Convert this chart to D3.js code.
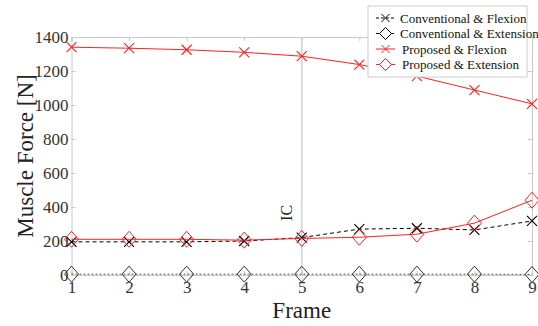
<!DOCTYPE html>
<html>
<head>
<meta charset="utf-8">
<script src="https://cdn.jsdelivr.net/npm/d3@7"></script>
<style>
  body { margin: 0; background: #fff; }
  svg text { font-family: "Liberation Serif", "Times New Roman", serif; }
</style>
</head>
<body>
<div id="chart"></div>
<script>
// data
const frames = [1, 2, 3, 4, 5, 6, 7, 8, 9];
const convFlexion = [195, 195, 195, 200, 220, 270, 275, 265, 318];
const convExtension = [5, 5, 5, 5, 5, 5, 5, 5, 3];
const propFlexion = [1340, 1334, 1325, 1310, 1287, 1238, 1170, 1088, 1007];
const propExtension = [210, 210, 210, 205, 215, 222, 240, 305, 440];
const yTicks = [0, 200, 400, 600, 800, 1000, 1200, 1400];

const W = 538, H = 326;
const margin = { left: 71.5, right: 6, top: 37, bottom: 51 };

const svg = d3.select("#chart").append("svg")
  .attr("width", W).attr("height", H);

const x = d3.scaleLinear().domain([1, 9]).range([margin.left, W - margin.right]);
const y = d3.scaleLinear().domain([0, 1400]).range([H - margin.bottom, margin.top]);

const axisCol = "#c8c8c8";

// frame lines
svg.append("g").selectAll("line").data([5]).enter().append("line")
  .attr("x1", d => x(d)).attr("x2", d => x(d))
  .attr("y1", y(1400)).attr("y2", y(0))
  .attr("stroke", "#d4d4d4").attr("stroke-width", 1.5);

// axes
svg.append("g").attr("transform", `translate(0,${y(0)})`)
  .call(d3.axisBottom(x).tickValues(frames).tickSize(-4).tickPadding(6).tickFormat(d3.format("d")));
svg.append("g").attr("transform", `translate(${x(1)},0)`)
  .call(d3.axisLeft(y).tickValues(yTicks).tickSize(-4).tickPadding(3).tickFormat(d3.format("d")));
svg.append("g").attr("transform", `translate(0,${y(1400)})`)
  .call(d3.axisTop(x).tickValues(frames).tickSize(-4).tickFormat(""));
svg.append("g").attr("transform", `translate(${x(9)},0)`)
  .call(d3.axisRight(y).tickValues(yTicks).tickSize(-4).tickFormat(""));

svg.selectAll("g").attr("font-family", null);
svg.selectAll(".domain").attr("stroke", axisCol);
svg.selectAll(".tick line").attr("stroke", axisCol);
svg.selectAll(".tick text").attr("fill", "#333").style("font-size", "17px");

// series
const series = [
  { name: "Conventional & Flexion", vals: convFlexion, color: "#000", dash: "4,3", marker: "x" },
  { name: "Conventional & Extension", vals: convExtension, color: "#555", dash: "2,2", marker: "d" },
  { name: "Proposed & Flexion", vals: propFlexion, color: "#ff2020", dash: null, marker: "x" },
  { name: "Proposed & Extension", vals: propExtension, color: "#ff2020", dash: null, marker: "d" }
];

const line = d3.line().x((d, i) => x(frames[i])).y(d => y(d));

function drawMarker(g, type, color) {
  if (type === "x") {
    g.append("path").attr("d", "M-5,-5L5,5M-5,5L5,-5")
      .attr("stroke", color).attr("stroke-width", 1.1).attr("fill", "none");
  } else {
    g.append("path").attr("d", "M0,-8L7,0L0,8L-7,0Z")
      .attr("stroke", color).attr("stroke-width", 1).attr("fill", "none");
  }
}

series.forEach(s => {
  svg.append("path").datum(s.vals)
    .attr("d", line)
    .attr("fill", "none")
    .attr("stroke", s.color)
    .attr("stroke-width", 1)
    .attr("stroke-dasharray", s.dash);
  s.vals.forEach((v, i) => {
    const g = svg.append("g").attr("transform", `translate(${x(frames[i])},${y(v)})`);
    drawMarker(g, s.marker, s.color === "#555" ? "#333" : s.color);
  });
});

// IC label
svg.append("text")
  .attr("transform", `translate(${x(5) - 10},${y(365)}) rotate(-90)`)
  .attr("text-anchor", "middle")
  .style("font-size", "16px").attr("fill", "#222")
  .text("IC");

// axis titles
svg.append("text")
  .attr("x", x(5)).attr("y", H - 8)
  .attr("text-anchor", "middle")
  .style("font-size", "23px").attr("fill", "#222")
  .text("Frame");
svg.append("text")
  .attr("transform", `translate(33,${y(700)}) rotate(-90)`)
  .attr("text-anchor", "middle")
  .style("font-size", "23px").attr("fill", "#222")
  .text("Muscle Force [N]");

// legend
const lg = svg.append("g").attr("transform", "translate(368,6)");
lg.append("rect").attr("width", 159).attr("height", 71)
  .attr("fill", "#fff").attr("stroke", "#ccc");
series.forEach((s, i) => {
  const row = lg.append("g").attr("transform", `translate(0,${12 + i * 15.5})`);
  row.append("line").attr("x1", 8).attr("x2", 27)
    .attr("stroke", s.color === "#555" ? "#000" : s.color)
    .attr("stroke-dasharray", s.dash ? "3,2" : null);
  const m = row.append("g").attr("transform", "translate(17.5,0)");
  if (s.marker === "x") {
    m.append("path").attr("d", "M-4,-4L4,4M-4,4L4,-4").attr("stroke", s.color).attr("fill", "none");
  } else {
    m.append("path").attr("d", "M0,-6L6,0L0,6L-6,0Z")
      .attr("stroke", s.color === "#555" ? "#000" : s.color).attr("fill", "#fff");
  }
  row.append("text").attr("x", i < 2 ? 32 : 34).attr("y", 4.5)
    .style("font-size", "13px").attr("fill", "#111").text(s.name);
});
</script>
</body>
</html>
